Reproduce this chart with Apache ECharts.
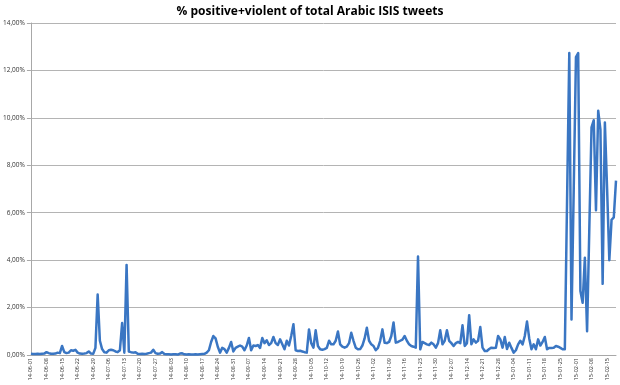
<!DOCTYPE html>
<html><head><meta charset="utf-8">
<script src="https://cdn.jsdelivr.net/npm/echarts@6/dist/echarts.min.js"></script>
<style>html,body{margin:0;padding:0;background:#fff}#c{width:620px;height:385px}</style>
</head><body><div id="c"></div>
<script>
// Daily values (% positive+violent of total Arabic ISIS tweets), starting 2014-06-01
const startDate = [2014, 6, 1];
const values = [
0.05,0.04,0.04,0.05,0.04,0.05,0.06,0.12,0.08,0.05,
0.05,0.06,0.1,0.08,0.38,0.12,0.08,0.1,0.2,0.18,
0.22,0.1,0.06,0.05,0.06,0.08,0.15,0.06,0.05,0.3,
2.55,0.6,0.25,0.12,0.1,0.2,0.22,0.2,0.15,0.12,
0.2,1.35,0.1,3.8,0.15,0.12,0.1,0.12,0.05,0.04,
0.05,0.04,0.05,0.08,0.1,0.22,0.08,0.05,0.06,0.12,
0.04,0.03,0.03,0.02,0.03,0.03,0.02,0.06,0.07,0.03,
0.02,0.03,0.02,0.02,0.03,0.02,0.03,0.04,0.05,0.1,
0.2,0.55,0.8,0.7,0.35,0.1,0.3,0.25,0.1,0.3,
0.55,0.15,0.3,0.35,0.4,0.35,0.2,0.4,0.72,0.2,
0.4,0.38,0.42,0.3,0.72,0.5,0.62,0.42,0.5,0.76,
0.5,0.42,0.66,0.45,0.24,0.6,0.4,0.8,1.3,0.2,
0.17,0.18,0.15,0.12,0.1,1.08,0.5,0.31,1.04,0.38,
0.24,0.22,0.25,0.3,0.6,0.45,0.45,0.6,0.99,0.45,
0.35,0.31,0.35,0.5,0.94,0.6,0.31,0.24,0.25,0.4,
0.7,1.15,0.6,0.45,0.38,0.2,0.3,0.6,1.08,0.52,
0.5,0.55,0.8,1.37,0.52,0.55,0.6,0.65,0.8,0.6,
0.45,0.38,0.35,0.31,4.15,0.24,0.55,0.5,0.45,0.42,
0.52,0.45,0.31,0.5,1.04,0.45,0.6,1.04,0.6,0.5,
0.38,0.5,0.55,0.5,1.25,0.38,0.5,1.68,0.45,0.66,
0.52,0.6,1.18,0.31,0.17,0.17,0.25,0.31,0.3,0.31,
0.8,0.66,0.31,0.76,0.25,0.52,0.3,0.1,0.2,0.45,
0.6,0.45,0.8,1.41,0.7,0.24,0.45,0.24,0.66,0.4,
0.55,0.76,0.24,0.3,0.3,0.31,0.38,0.35,0.3,0.24,
0.24,6.5,12.73,1.5,7,12.56,12.73,2.7,2.2,4.1,
1.0,5.3,9.6,9.9,6.1,10.3,9.5,3.0,9.8,7.0,
4.0,5.7,5.8,7.35
];
const yTicks = [0,2,4,6,8,10,12,14];
const titleText = '% positive+violent of total Arabic ISIS tweets';

// category labels (yy-mm-dd), one per day
const categories = [];
for (let i = 0; i < values.length; i++) {
  const d = new Date(Date.UTC(startDate[0], startDate[1]-1, startDate[2] + i));
  const p = n => String(n).padStart(2,'0');
  categories.push(p(d.getUTCFullYear()%100)+'-'+p(d.getUTCMonth()+1)+'-'+p(d.getUTCDate()));
}

const chart = echarts.init(document.getElementById('c'), null, {renderer:'canvas'});
chart.setOption({
  animation:false,
  backgroundColor:'#fff',
  title:{text:titleText,left:'center',top:1,
    textStyle:{fontFamily:'Open Sans',fontWeight:'bold',fontSize:12,color:'#000'}},
  grid:{left:28,right:4,top:23,bottom:30,containLabel:false},
  xAxis:{type:'category',data:categories,boundaryGap:false,
    axisLine:{show:true,lineStyle:{color:'#a8a8a8',width:1}},
    axisTick:{show:false},
    axisLabel:{interval:6,rotate:90,fontSize:5.5,fontFamily:'Open Sans',color:'#333',margin:3},
    splitLine:{show:false}},
  yAxis:{type:'value',min:yTicks[0],max:yTicks[yTicks.length-1],interval:2,
    axisLine:{show:true,lineStyle:{color:'#a8a8a8',width:1}},
    axisTick:{show:true,length:4,lineStyle:{color:'#a8a8a8'}},
    axisLabel:{fontSize:6.5,fontFamily:'Open Sans',color:'#333',margin:6,
      formatter:v=>v.toFixed(2).replace('.',',')+'%'},
    splitLine:{show:true,lineStyle:{color:'#b4b4b4',width:1}}},
  series:[{type:'line',data:values,showSymbol:false,symbol:'none',smooth:false,
    lineStyle:{color:'#3a76c3',width:2.5,join:'round'},z:5}]
});
</script></body></html>
